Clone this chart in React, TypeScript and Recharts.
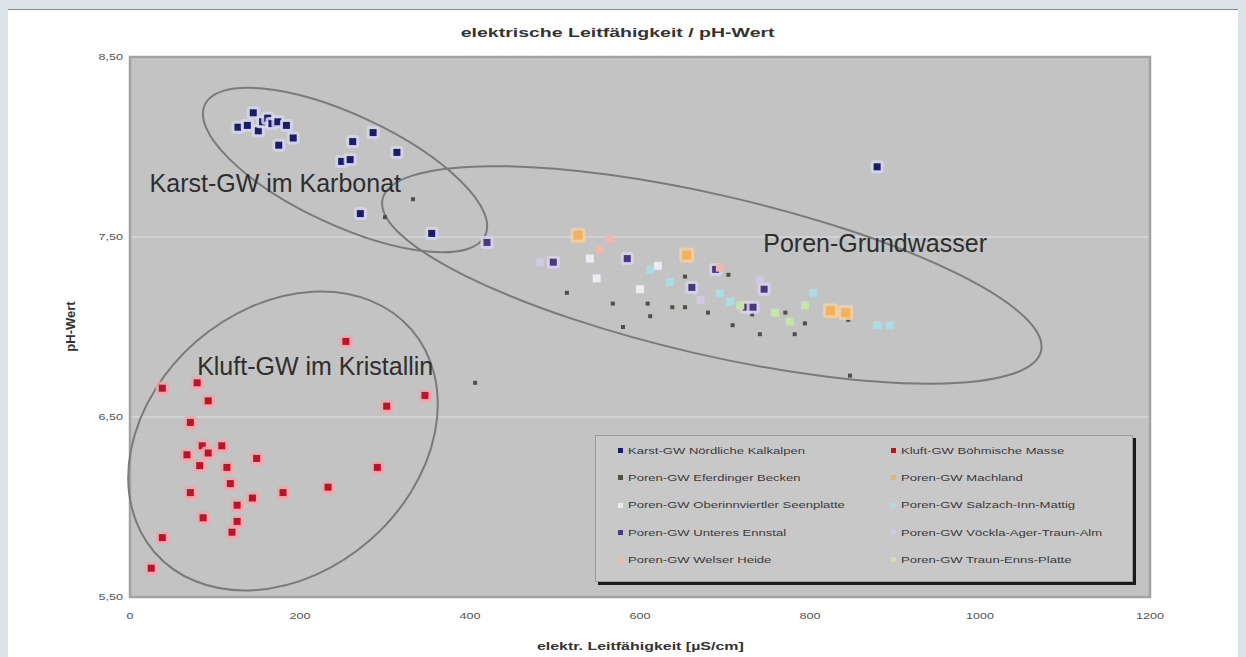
import React from 'react';
import { ScatterChart, Scatter, XAxis, YAxis, CartesianGrid, ReferenceArea, ReferenceDot, Legend } from 'recharts';

const xTicks = [0, 200, 400, 600, 800, 1000, 1200];
const yTicks = [5.5, 6.5, 7.5, 8.5];

// Karst-GW Nördliche Kalkalpen
const karst = [
  { x: 127, y: 8.11 }, { x: 138, y: 8.12 }, { x: 145, y: 8.19 }, { x: 151, y: 8.09 },
  { x: 156, y: 8.14 }, { x: 162, y: 8.16 }, { x: 167, y: 8.13 }, { x: 174, y: 8.14 },
  { x: 175, y: 8.01 }, { x: 184, y: 8.12 }, { x: 192, y: 8.05 }, { x: 249, y: 7.92 },
  { x: 259, y: 7.93 }, { x: 262, y: 8.03 }, { x: 286, y: 8.08 }, { x: 314, y: 7.97 },
  { x: 271, y: 7.63 }, { x: 355, y: 7.52 }, { x: 879, y: 7.89 },
];

// Kluft-GW Böhmische Masse
const kluft = [
  { x: 254, y: 6.92 }, { x: 38, y: 6.66 }, { x: 79, y: 6.69 }, { x: 92, y: 6.59 },
  { x: 347, y: 6.62 }, { x: 302, y: 6.56 }, { x: 71, y: 6.47 }, { x: 85, y: 6.34 },
  { x: 108, y: 6.34 }, { x: 92, y: 6.30 }, { x: 67, y: 6.29 }, { x: 82, y: 6.23 },
  { x: 149, y: 6.27 }, { x: 114, y: 6.22 }, { x: 118, y: 6.13 }, { x: 291, y: 6.22 },
  { x: 71, y: 6.08 }, { x: 180, y: 6.08 }, { x: 233, y: 6.11 }, { x: 144, y: 6.05 },
  { x: 126, y: 6.01 }, { x: 86, y: 5.94 }, { x: 126, y: 5.92 }, { x: 120, y: 5.86 },
  { x: 38, y: 5.83 }, { x: 25, y: 5.66 },
];

const eferding = [
  { x: 300, y: 7.61 }, { x: 333, y: 7.71 }, { x: 406, y: 6.69 }, { x: 514, y: 7.19 },
  { x: 568, y: 7.13 }, { x: 580, y: 7.0 }, { x: 609, y: 7.13 }, { x: 612, y: 7.06 },
  { x: 638, y: 7.11 }, { x: 653, y: 7.11 }, { x: 653, y: 7.28 }, { x: 680, y: 7.08 },
  { x: 704, y: 7.29 }, { x: 709, y: 7.01 }, { x: 732, y: 7.07 }, { x: 741, y: 6.96 },
  { x: 771, y: 7.08 }, { x: 782, y: 6.96 }, { x: 794, y: 7.02 }, { x: 845, y: 7.04 },
  { x: 847, y: 6.73 },
];

const machland = [
  { x: 527, y: 7.51 }, { x: 655, y: 7.4 }, { x: 824, y: 7.09 }, { x: 842, y: 7.08 },
];

const oberinnviertel = [
  { x: 541, y: 7.38 }, { x: 621, y: 7.34 }, { x: 549, y: 7.27 }, { x: 600, y: 7.21 },
];

const salzach = [
  { x: 612, y: 7.32 }, { x: 635, y: 7.25 }, { x: 694, y: 7.19 }, { x: 706, y: 7.14 },
  { x: 804, y: 7.19 }, { x: 879, y: 7.01 }, { x: 894, y: 7.01 },
];

const ennstal = [
  { x: 420, y: 7.47 }, { x: 498, y: 7.36 }, { x: 585, y: 7.38 }, { x: 661, y: 7.22 },
  { x: 689, y: 7.32 }, { x: 725, y: 7.11 }, { x: 733, y: 7.11 }, { x: 746, y: 7.21 },
];

const voeckla = [
  { x: 482, y: 7.36 }, { x: 741, y: 7.26 }, { x: 671, y: 7.15 },
];

const welser = [
  { x: 565, y: 7.49 }, { x: 694, y: 7.33 }, { x: 553, y: 7.43 },
];

const traunEnns = [
  { x: 759, y: 7.08 }, { x: 776, y: 7.03 }, { x: 718, y: 7.12 }, { x: 794, y: 7.12 },
];

// legend order, row by row (two columns)
const series = [
  { name: 'Karst-GW Nördliche Kalkalpen', data: karst, color: '#1b1b68', size: 7, halo: '#d6d6ec' },
  { name: 'Kluft-GW Böhmische Masse', data: kluft, color: '#b8142c', size: 7, halo: '#f2a6aa' },
  { name: 'Poren-GW Eferdinger Becken', data: eferding, color: '#4d5244', size: 4, halo: null },
  { name: 'Poren-GW Machland', data: machland, color: '#f0b25e', size: 9, halo: '#f4d0a0' },
  { name: 'Poren-GW Oberinnviertler Seenplatte', data: oberinnviertel, color: '#ececf2', size: 8, halo: null },
  { name: 'Poren-GW Salzach-Inn-Mattig', data: salzach, color: '#acdce4', size: 8, halo: null },
  { name: 'Poren-GW Unteres Ennstal', data: ennstal, color: '#48397f', size: 7, halo: '#dcd2ec' },
  { name: 'Poren-GW Vöckla-Ager-Traun-Alm', data: voeckla, color: '#d0c8e6', size: 8, halo: null },
  { name: 'Poren-GW Welser Heide', data: welser, color: '#f0b6b0', size: 8, halo: null },
  { name: 'Poren-GW Traun-Enns-Platte', data: traunEnns, color: '#c6e4a6', size: 8, halo: null },
];

// ellipses: unrotated box in data units + rotation in degrees
const ellipses = [
  { x1: 71, x2: 435, y1: 7.566, y2: 8.178, angle: 25 },
  { x1: 287, x2: 1082, y1: 6.845, y2: 7.733, angle: 13 },
  { x1: -20, x2: 380, y1: 5.634, y2: 7.1, angle: -41 },
];

const notes = [
  { text: 'Karst-GW im Karbonat', x: 23, y: 7.75 },
  { text: 'Poren-Grundwasser', x: 745, y: 7.417 },
  { text: 'Kluft-GW im Kristallin', x: 79, y: 6.733 },
];

const font = '"Liberation Sans", Arial, sans-serif';

const makeShape = (s) => (props) => {
  const { cx, cy } = props;
  if (cx == null || cy == null) return null;
  const h = s.size + 6;
  return (
    <g>
      {s.halo && <rect x={cx - h / 2} y={cy - h / 2} width={h} height={h} rx={3} fill={s.halo} opacity={0.85} />}
      <rect x={cx - s.size / 2} y={cy - s.size / 2} width={s.size} height={s.size} fill={s.color} />
    </g>
  );
};

const xTick = (props) => {
  const { x, y, payload } = props;
  return (
    <text transform={`translate(${x},${y + 19}) scale(1.4,1)`} textAnchor="middle" dominantBaseline="central"
      fontSize={9} fontFamily={font} fill="#555">
      {payload.value}
    </text>
  );
};

const yTick = (props) => {
  const { x, y, payload } = props;
  return (
    <text transform={`translate(${x - 7},${y}) scale(1.4,1)`} textAnchor="end" dominantBaseline="central"
      fontSize={9} fontFamily={font} fill="#555">
      {payload.value.toFixed(2).replace('.', ',')}
    </text>
  );
};

const LegendBox = () => (
  <div style={{
    width: 536, height: 144, background: '#c8c8c8', border: '1px solid #9a9a9a',
    boxShadow: '3px 3px 0 #1a1a1a', display: 'grid', gridTemplateColumns: '273px 263px',
    gridAutoRows: '27.3px', paddingTop: 1, fontFamily: font,
  }}>
    {series.map((s) => (
      <div key={s.name} style={{ display: 'flex', alignItems: 'center', paddingLeft: 22 }}>
        <span style={{ width: 5, height: 5, background: s.color, marginRight: 5, flex: 'none' }} />
        <span style={{ fontSize: 9, color: '#3a3a3a', whiteSpace: 'nowrap', display: 'inline-block',
          transform: 'scaleX(1.45)', transformOrigin: 'left center' }}>{s.name}</span>
      </div>
    ))}
  </div>
);

export default function App() {
  return (
    <div style={{ position: 'absolute', left: 0, top: 0, width: 1246, height: 657, background: '#dde4e8', overflow: 'hidden' }}>
      <div style={{ position: 'absolute', left: 8, top: 9, width: 1230, height: 648, background: '#fff', borderTop: '1px solid #8c8c5c' }}>
        <div style={{ position: 'absolute', left: 0, top: 0, width: 1230 }}>
          <ScatterChart width={1230} height={647} margin={{ top: 47, right: 88, bottom: 0, left: 0 }}>
            <CartesianGrid vertical={false} fill="#c3c3c3" stroke="#d6d6d6" strokeWidth={1.5} />
            <XAxis type="number" dataKey="x" domain={[0, 1200]} ticks={xTicks} allowDataOverflow
              axisLine={false} tickLine={false} tickSize={0} tickMargin={0} height={60} tick={xTick} />
            <YAxis type="number" dataKey="y" domain={[5.5, 8.5]} ticks={yTicks} allowDataOverflow
              axisLine={false} tickLine={false} tickSize={0} tickMargin={0} width={122} tick={yTick} />
            <ReferenceArea x1={0} x2={1200} y1={5.5} y2={8.5} fill="none" fillOpacity={0} stroke="#a2a2a2" strokeWidth={2.5} />
            {series.map((s) => (
              <Scatter key={s.name} name={s.name} data={s.data} shape={makeShape(s)} isAnimationActive={false} legendType="none" />
            ))}
            {ellipses.map((e, i) => (
              <ReferenceArea key={'e' + i} x1={e.x1} x2={e.x2} y1={e.y1} y2={e.y2} ifOverflow="visible"
                shape={(p) => {
                  const cx = p.x + p.width / 2;
                  const cy = p.y + p.height / 2;
                  return (
                    <ellipse cx={cx} cy={cy} rx={Math.abs(p.width) / 2} ry={Math.abs(p.height) / 2}
                      transform={`rotate(${e.angle} ${cx} ${cy})`} fill="none" stroke="#7a7a7a" strokeWidth={2} />
                  );
                }} />
            ))}
            {notes.map((n) => (
              <ReferenceDot key={n.text} x={n.x} y={n.y} r={0}
                shape={(p) => (
                  <text x={p.cx} y={p.cy} fontSize={25} fontFamily={font} fill="#2e2e2e">{n.text}</text>
                )} />
            ))}
            <Legend layout="vertical" align="center" verticalAlign="middle" content={LegendBox}
              wrapperStyle={{ left: 587, top: 425, width: 540, height: 148 }} />
          </ScatterChart>
        </div>
        <div style={{ position: 'absolute', left: 0, width: 1230, top: 13, textAlign: 'center', fontFamily: font }}>
          <span style={{ display: 'inline-block', fontSize: 13, fontWeight: 'bold', color: '#333', transform: 'scaleX(1.5)', marginLeft: -10 }}>
            elektrische Leitfähigkeit / pH-Wert
          </span>
        </div>
        <div style={{ position: 'absolute', left: 122, width: 1020, top: 626, textAlign: 'center', fontFamily: font }}>
          <span style={{ display: 'inline-block', fontSize: 11, fontWeight: 'bold', color: '#333', transform: 'scaleX(1.45)' }}>
            elektr. Leitfähigkeit [µS/cm]
          </span>
        </div>
        <div style={{ position: 'absolute', left: 62, top: 317, width: 0, height: 0, fontFamily: font }}>
          <span style={{ position: 'absolute', left: -40, top: -8, width: 80, textAlign: 'center', fontSize: 13, fontWeight: 'bold',
            color: '#333', transform: 'rotate(-90deg)', whiteSpace: 'nowrap' }}>
            pH-Wert
          </span>
        </div>
      </div>
    </div>
  );
}
